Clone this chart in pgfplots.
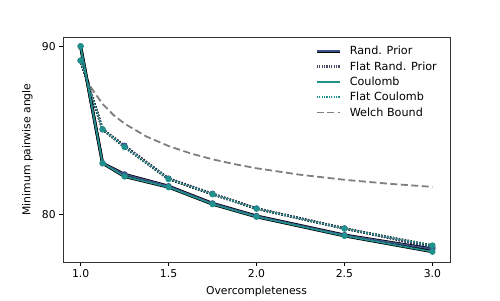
\documentclass[border=0pt]{standalone}
\usepackage{fontspec}
\setmainfont{DejaVu Sans}
\usepackage{pgfplots}
\pgfplotsset{compat=1.18}
\definecolor{rp}{HTML}{3B528B}
\definecolor{cb}{HTML}{21918C}
\definecolor{wb}{HTML}{7F7F7F}
\begin{document}
\fontsize{10.8}{13}\selectfont
\begin{tikzpicture}
\begin{axis}[
  name=ax,
  scale only axis, width=387pt, height=225pt,
  xmin=0.9, xmax=3.1, ymin=77.2, ymax=90.55,
  xtick={1,1.5,2,2.5,3},
  xticklabels={1.0,1.5,2.0,2.5,3.0},
  ytick={80,90},
  tick align=outside, tick pos=left,
  major tick length=3.5pt,
  every tick/.style={black, line width=0.8pt},
  axis line style={line width=0.8pt, black!80},
  /pgf/number format/assume math mode=true,
  tick label style={font=\fontsize{10.8}{13}\selectfont},
  label style={font=\fontsize{10.8}{13}\selectfont},
  xlabel={Overcompleteness},
  ylabel={Minimum pairwise angle},
  xlabel style={at={(ticklabel cs:0.5)}, yshift=-1pt},
  ylabel style={yshift=2pt},
  legend style={at={(1,1)}, anchor=north east, draw=none, fill=none,
    font=\fontsize{11.2}{13}\selectfont, inner xsep=6pt, inner ysep=4pt,
    row sep=1.2pt, cells={anchor=west}, xshift=-5pt, yshift=-3pt},
]
% Welch bound
\addplot[wb, line width=1.8pt, dash pattern=on 7pt off 3.5pt, forget plot] coordinates {
(1.0,90) (1.03125,88.209) (1.0625,87.506) (1.125,86.574) (1.1875,85.918) (1.25,85.408) (1.375,84.641)
(1.5,84.082) (1.625,83.644) (1.75,83.294) (1.875,83.005) (2.0,82.762)
(2.25,82.375) (2.5,82.079) (2.75,81.846) (3.0,81.657)};
% outlines
\addplot[black, line width=3pt, forget plot] coordinates {
(1.0,90) (1.125,83.06) (1.25,82.40) (1.5,81.70) (1.75,80.68) (2.0,79.93) (2.5,78.80) (3.0,77.97)};
\addplot[black, line width=3pt, forget plot] coordinates {
(1.0,90) (1.125,83.06) (1.25,82.27) (1.5,81.64) (1.75,80.63) (2.0,79.88) (2.5,78.75) (3.0,77.81)};
\addplot[black, line width=2.5pt, dash pattern=on 1.5pt off 1.5pt, forget plot] coordinates {
(1.0,89.15) (1.125,85.07) (1.25,84.10) (1.5,82.15) (1.75,81.25) (2.0,80.38) (2.5,79.20) (3.0,78.07)};
\addplot[black, line width=2.5pt, dash pattern=on 1.5pt off 1.5pt, forget plot] coordinates {
(1.0,89.15) (1.125,85.07) (1.25,84.02) (1.5,82.12) (1.75,81.22) (2.0,80.36) (2.5,79.18) (3.0,78.18)};
% series
\addplot[rp, line width=1.6pt, mark=*, mark size=2.3pt, mark options={solid, draw=rp, fill=rp}, forget plot] coordinates {
(1.0,90) (1.125,83.06) (1.25,82.40) (1.5,81.70) (1.75,80.68) (2.0,79.93) (2.5,78.80) (3.0,77.97)};
\addplot[rp, line width=1.6pt, dash pattern=on 1.5pt off 1.5pt, mark=*, mark size=2.3pt, mark options={solid, draw=rp, fill=rp}, forget plot] coordinates {
(1.0,89.15) (1.125,85.07) (1.25,84.10) (1.5,82.15) (1.75,81.25) (2.0,80.38) (2.5,79.20) (3.0,78.07)};
\addplot[cb, line width=1.6pt, mark=*, mark size=2.3pt, mark options={solid, draw=cb, fill=cb}, forget plot] coordinates {
(1.0,90) (1.125,83.06) (1.25,82.27) (1.5,81.64) (1.75,80.63) (2.0,79.88) (2.5,78.75) (3.0,77.81)};
\addplot[cb, line width=1.6pt, dash pattern=on 1.5pt off 1.5pt, mark=*, mark size=2.3pt, mark options={solid, draw=cb, fill=cb}, forget plot] coordinates {
(1.0,89.15) (1.125,85.07) (1.25,84.02) (1.5,82.12) (1.75,81.22) (2.0,80.36) (2.5,79.18) (3.0,78.18)};
% legend
\addlegendimage{legend image code/.code={\path[draw=none,fill=none] (0pt,0pt)--(31pt,0pt); \draw[black,line width=2.6pt,solid] (0pt,0pt)--(23pt,0pt); \draw[rp,line width=1.8pt,solid] (0pt,0pt)--(23pt,0pt);}}
\addlegendentry{Rand. Prior}
\addlegendimage{legend image code/.code={\path[draw=none,fill=none] (0pt,0pt)--(31pt,0pt); \draw[black!70,line width=2.2pt,dash pattern=on 1.2pt off 1.2pt] (0pt,0pt)--(23pt,0pt); \draw[rp,line width=1.6pt,dash pattern=on 1.2pt off 1.2pt] (0pt,0pt)--(23pt,0pt);}}
\addlegendentry{Flat Rand. Prior}
\addlegendimage{legend image code/.code={\path[draw=none,fill=none] (0pt,0pt)--(31pt,0pt); \draw[black,line width=2.6pt,solid] (0pt,0pt)--(23pt,0pt); \draw[cb,line width=1.8pt,solid] (0pt,0pt)--(23pt,0pt);}}
\addlegendentry{Coulomb}
\addlegendimage{legend image code/.code={\path[draw=none,fill=none] (0pt,0pt)--(31pt,0pt); \draw[black!70,line width=2.2pt,dash pattern=on 1.2pt off 1.2pt] (0pt,0pt)--(23pt,0pt); \draw[cb,line width=1.6pt,dash pattern=on 1.2pt off 1.2pt] (0pt,0pt)--(23pt,0pt);}}
\addlegendentry{Flat Coulomb}
\addlegendimage{legend image code/.code={\path[draw=none,fill=none] (0pt,0pt)--(31pt,0pt); \draw[wb,line width=1.8pt,dash pattern=on 7pt off 3.5pt] (0pt,0pt)--(23pt,0pt);}}
\addlegendentry{Welch Bound}
\end{axis}
\pgfresetboundingbox
\path[use as bounding box] ([shift={(-63pt,-38pt)}]ax.south west) rectangle ([shift={(50pt,37pt)}]ax.north east);
\end{tikzpicture}
\end{document}
